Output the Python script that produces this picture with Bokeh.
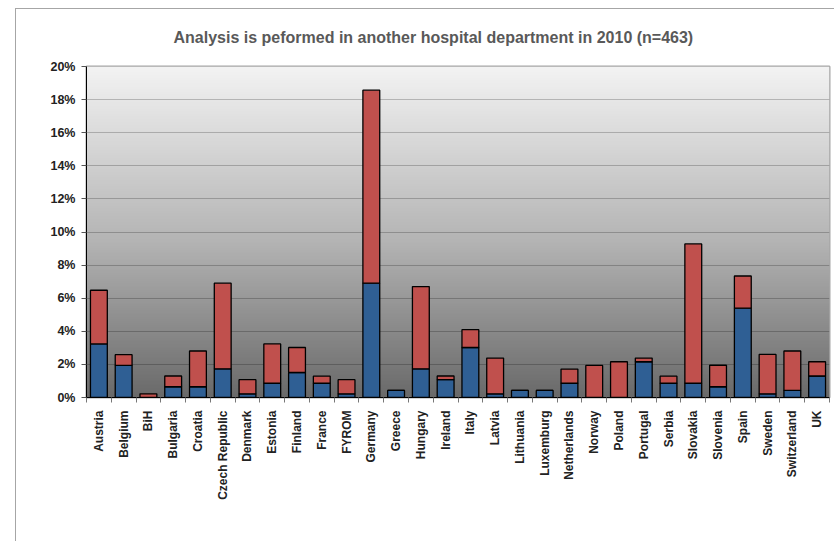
import math
import numpy as np
from bokeh.plotting import figure
from bokeh.models import ColumnDataSource, FixedTicker, Range1d
from bokeh.embed import file_html
from bokeh.resources import INLINE

countries = ["Austria", "Belgium", "BiH", "Bulgaria", "Croatia", "Czech Republic",
             "Denmark", "Estonia", "Finland", "France", "FYROM", "Germany", "Greece",
             "Hungary", "Ireland", "Italy", "Latvia", "Lithuania", "Luxemburg",
             "Netherlands", "Norway", "Poland", "Portugal", "Serbia", "Slovakia",
             "Slovenia", "Spain", "Sweden", "Switzerland", "UK"]
yes_pct = [3.24, 1.94, 0.00, 0.65, 0.65, 1.73, 0.22, 0.86, 1.51, 0.86,
           0.22, 6.91, 0.43, 1.73, 1.08, 3.02, 0.22, 0.43, 0.43, 0.86,
           0.00, 0.00, 2.16, 0.86, 0.86, 0.65, 5.40, 0.22, 0.43, 1.30]
no_pct = [3.24, 0.65, 0.22, 0.65, 2.16, 5.18, 0.86, 2.38, 1.51, 0.43,
          0.86, 11.66, 0.00, 4.97, 0.22, 1.08, 2.16, 0.00, 0.00, 0.86,
          1.94, 2.16, 0.22, 0.43, 8.42, 1.30, 1.94, 2.38, 2.38, 0.86]
series_names = ["Yes", "No"]
y_ticks = [0, 2, 4, 6, 8, 10, 12, 14, 16, 18, 20]
y_tick_labels = [f"{t}%" for t in y_ticks]
title_text = "Analysis is peformed in another hospital department in 2010 (n=463)"

n = len(countries)
x_pos = list(range(n))
src = ColumnDataSource(dict(x=x_pos, country=countries, yes=yes_pct, no=no_pct))

FONT = "Liberation Sans"
p = figure(frame_width=743, frame_height=331, output_backend="svg", toolbar_location=None,
           x_range=Range1d(-0.5, n - 0.5), y_range=Range1d(y_ticks[0], y_ticks[-1]),
           min_border_left=86, min_border_right=5, min_border_top=66,
           min_border_bottom=50, title=title_text)

p.title.text_font = FONT
p.title.text_font_size = "16px"
p.title.text_font_style = "bold"
p.title.text_color = "#595959"
p.title.align = "left"
p.title.offset = 87
p.title.standoff = 42

p.background_fill_color = "white"
p.border_fill_color = "white"
p.border_fill_alpha = 0
p.outline_line_color = "#a6a6a6"
p.outline_line_width = 2
# outer chart border (left and top edges) drawn behind the transparent canvas border
p.styles = {"background": "linear-gradient(#a6a6a6, #a6a6a6) 15px 8px / 1px 100% no-repeat, "
                          "linear-gradient(#a6a6a6, #a6a6a6) 15px 8px / 100% 1px no-repeat, white"}

# gradient background of plot area
N = 256
t = np.linspace(0, 1, N)
v = np.interp(t, [0, 0.47, 1], [106, 180, 243]).astype(np.uint32)
img = np.empty((N, 1), dtype=np.uint32)
view = img.view(dtype=np.uint8).reshape((N, 1, 4))
view[:, 0, 0] = v
view[:, 0, 1] = v
view[:, 0, 2] = v
view[:, 0, 3] = 255
p.image_rgba(image=[img], x=-0.5, y=y_ticks[0], dw=n, dh=y_ticks[-1] - y_ticks[0], level="image")

p.vbar_stack(["yes", "no"], x="x", width=0.68, color=["#2f5f94", "#c0504d"],
             line_color="black", line_width=1.3, source=src, legend_label=series_names)

# y axis
p.yaxis.ticker = FixedTicker(ticks=y_ticks, minor_ticks=[])
p.yaxis.major_label_overrides = {tk: lab for tk, lab in zip(y_ticks, y_tick_labels)}
p.yaxis.major_label_text_font = FONT
p.yaxis.major_label_text_font_style = "bold"
p.yaxis.major_label_text_font_size = "12.5px"
p.yaxis.major_label_text_color = "#222222"
p.yaxis.major_tick_out = 5
p.yaxis.major_tick_in = 0
p.yaxis.major_tick_line_color = "#555555"
p.yaxis.major_label_standoff = 6
p.yaxis.axis_line_color = "black"
p.yaxis.minor_tick_line_color = None

# x axis
p.xaxis.ticker = FixedTicker(ticks=x_pos, minor_ticks=[i - 0.5 for i in range(n + 1)])
p.xaxis.major_label_overrides = {i: c for i, c in zip(x_pos, countries)}
p.xaxis.major_label_orientation = math.pi / 2
p.xaxis.major_label_text_font = FONT
p.xaxis.major_label_text_font_style = "bold"
p.xaxis.major_label_text_font_size = "12px"
p.xaxis.major_label_text_color = "#222222"
p.xaxis.major_tick_out = 0
p.xaxis.major_tick_in = 0
p.xaxis.minor_tick_out = 5
p.xaxis.minor_tick_in = 0
p.xaxis.minor_tick_line_color = "#777777"
p.xaxis.major_label_standoff = 8
p.xaxis.axis_line_color = "black"

p.xgrid.grid_line_color = None
p.ygrid.ticker = FixedTicker(ticks=y_ticks)
p.ygrid.grid_line_color = "black"
p.ygrid.grid_line_alpha = 0.22

lg = p.legend[0]
p.center.remove(lg)
p.add_layout(lg, "below")
lg.location = (315, 19)
lg.orientation = "horizontal"
lg.label_text_font = FONT
lg.label_text_font_style = "bold"
lg.label_text_font_size = "9px"
lg.label_text_color = "#222222"
lg.glyph_width = 6
lg.glyph_height = 6
lg.label_standoff = 2
lg.spacing = 6
lg.padding = 4
lg.margin = 0
lg.label_height = 9
lg.border_line_color = "#a6a6a6"
lg.background_fill_color = "white"
lg.background_fill_alpha = 1

open("out.html", "w").write(file_html(p, INLINE))
